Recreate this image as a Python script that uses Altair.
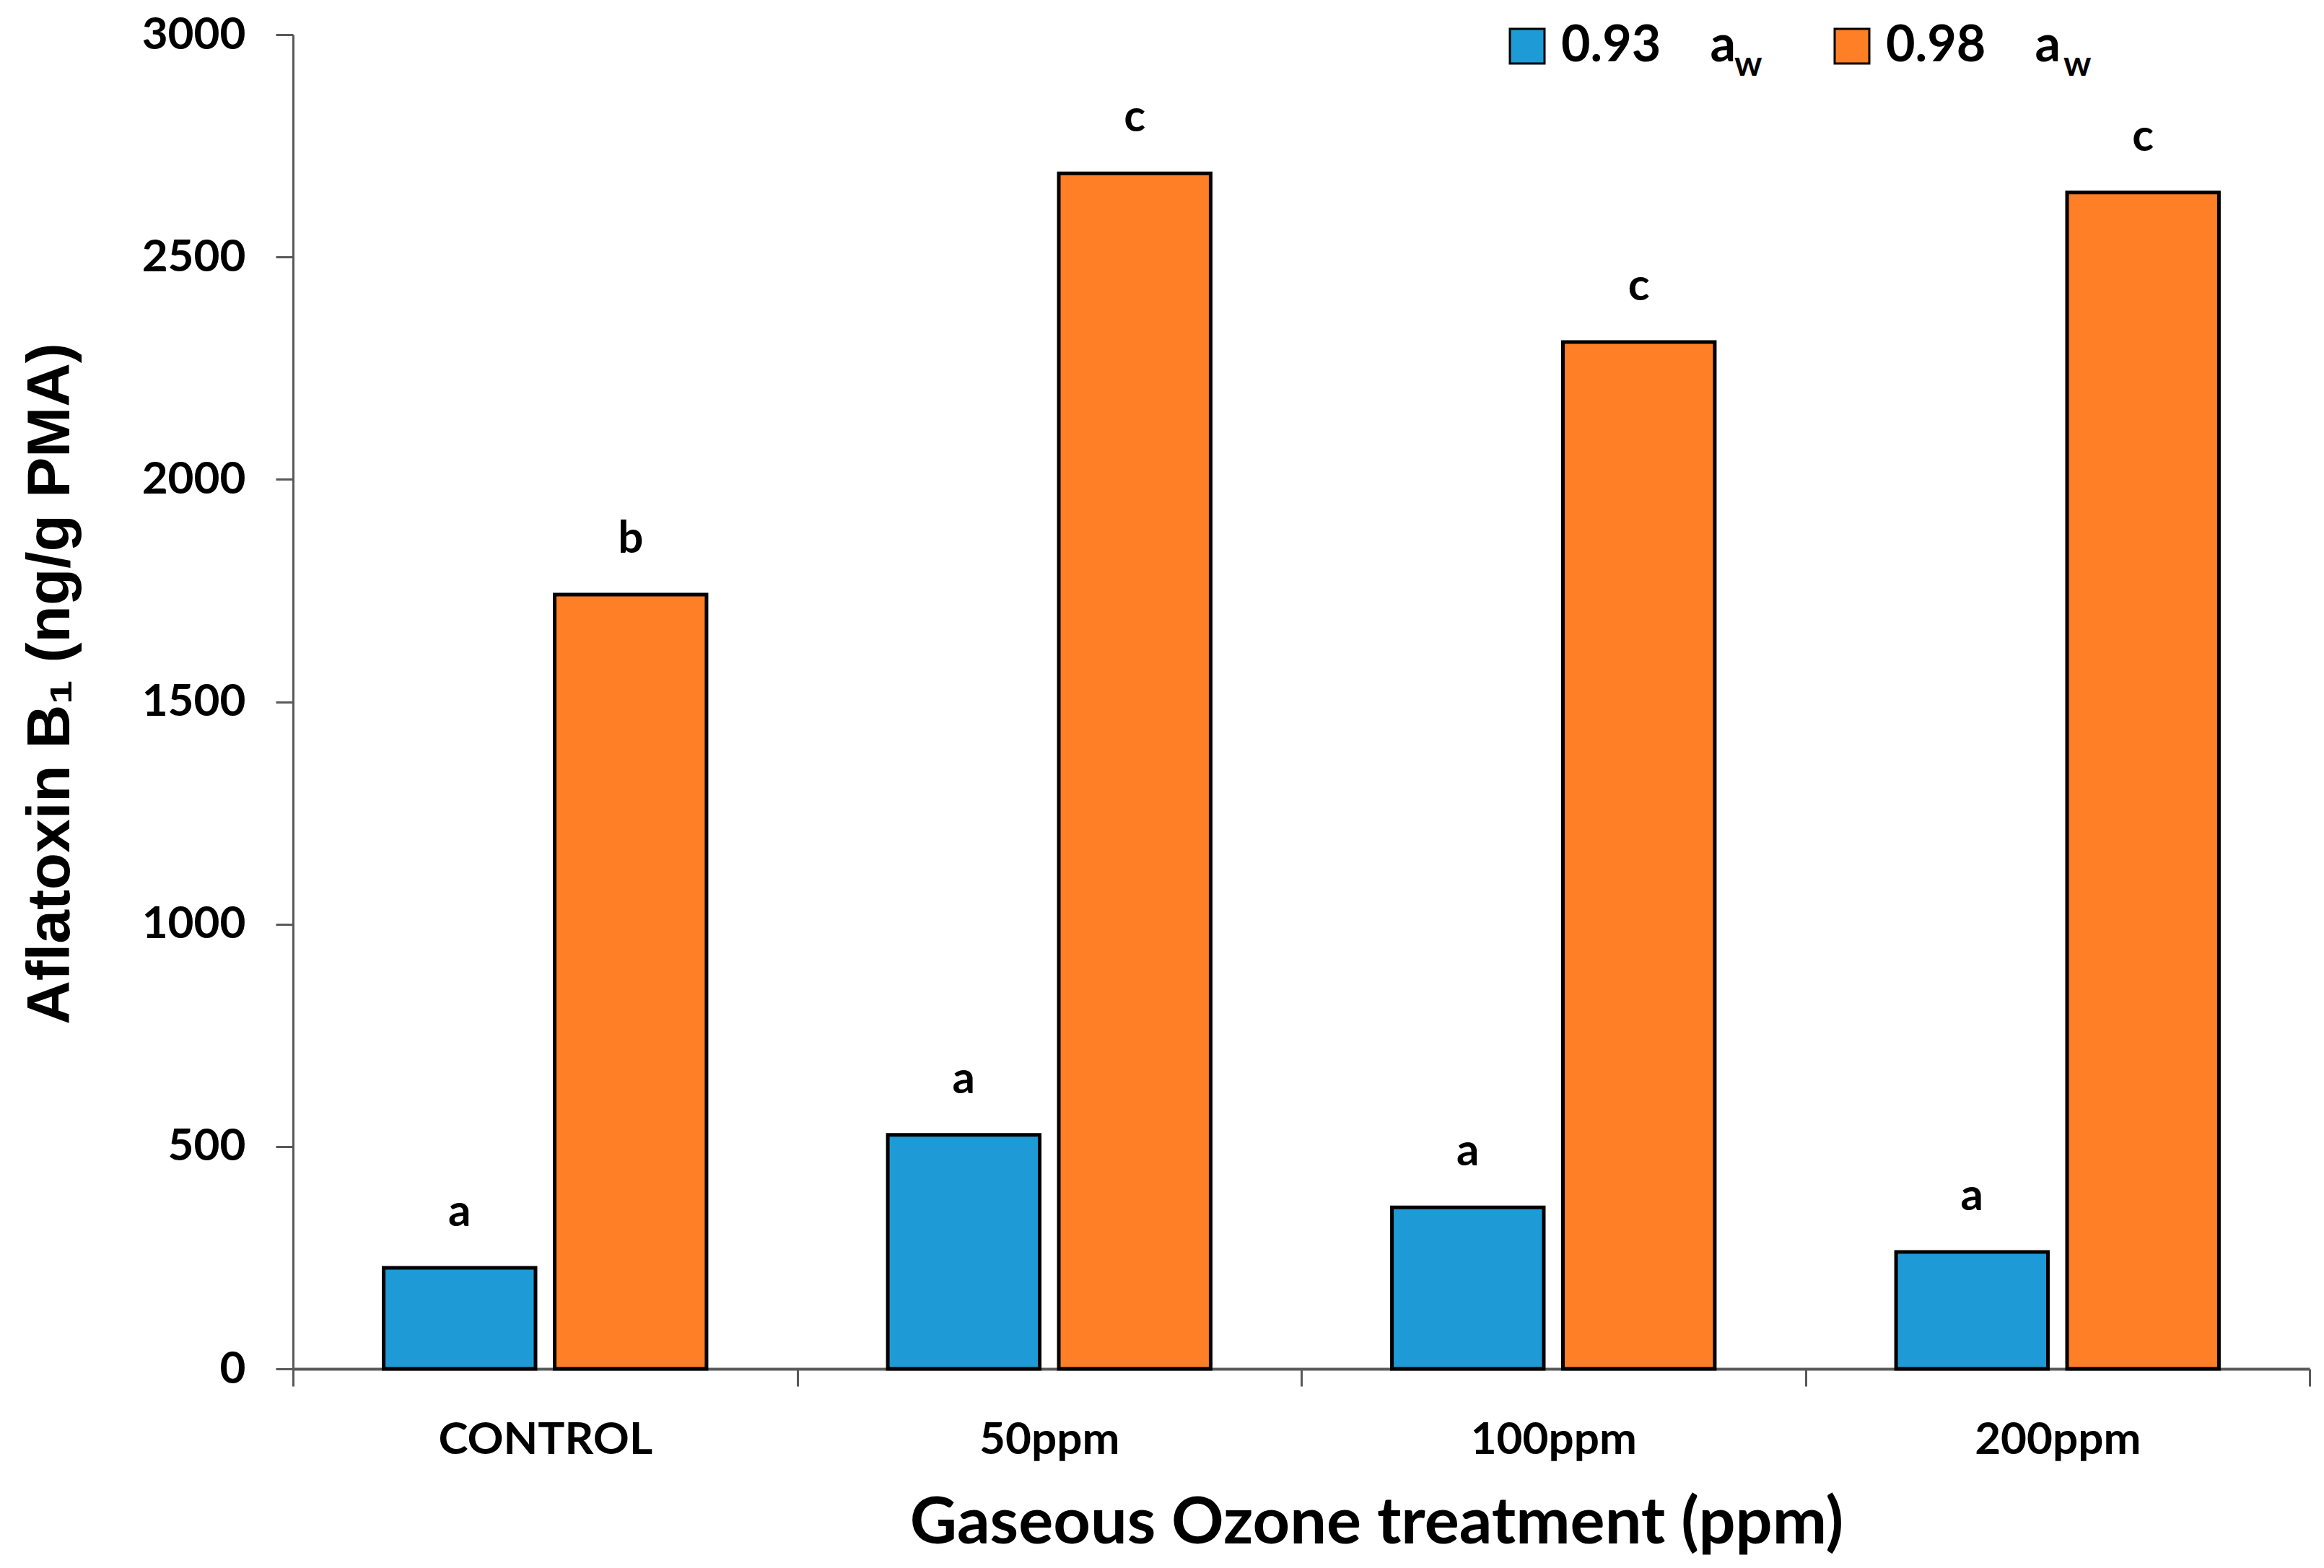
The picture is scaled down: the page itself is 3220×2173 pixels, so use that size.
import altair as alt
import pandas as pd

# ---- data ----
treatments = ["CONTROL", "50ppm", "100ppm", "200ppm"]
series = ["0.93", "0.98"]
aw_093 = [227, 526, 363, 263]
aw_098 = [1741, 2688, 2309, 2645]
letters_093 = ["a", "a", "a", "a"]
letters_098 = ["b", "c", "c", "c"]
colors = ["#1E9BD7", "#FF7F27"]
y_ticks = [0, 500, 1000, 1500, 2000, 2500, 3000]

NB = "\u00a0"
legend_labels = [s + NB * 4 + "a" for s in series]

rows = []
for i, t in enumerate(treatments):
    rows.append({"treatment": t, "aw": legend_labels[0], "value": aw_093[i], "letter": letters_093[i]})
    rows.append({"treatment": t, "aw": legend_labels[1], "value": aw_098[i], "letter": letters_098[i]})
df = pd.DataFrame(rows)

FONT = "Lato"
AXIS_COLOR = "#595959"

x_enc = alt.X(
    "treatment:N",
    sort=treatments,
    scale=alt.Scale(paddingInner=0, paddingOuter=0),
    axis=alt.Axis(
        title="Gaseous Ozone treatment (ppm)",
        labelAngle=0,
        labelLimit=0,
        tickBand="extent",
        labelFont=FONT,
        labelFontWeight="bold",
        labelFontSize=62,
        labelColor="black",
        labelPadding=44,
        tickSize=24,
        tickWidth=3,
        tickColor=AXIS_COLOR,
        domainColor=AXIS_COLOR,
        domainWidth=4,
        titleFont=FONT,
        titleFontWeight="bold",
        titleFontSize=90,
        titleColor="black",
        titleX=1501,
        titleY=241,
        titleAlign="center",
        titleBaseline="alphabetic",
        titleLimit=0,
    ),
)
xo_enc = alt.XOffset(
    "aw:N",
    sort=legend_labels,
    scale=alt.Scale(paddingInner=0.112, paddingOuter=0.53),
)
y_enc = alt.Y(
    "value:Q",
    scale=alt.Scale(domain=[0, 3000], nice=False),
    axis=alt.Axis(
        values=y_ticks,
        format="d",
        grid=False,
        title="Aflatoxin B\u2081 (ng/g PMA)",
        labelFont=FONT,
        labelFontWeight="bold",
        labelFontSize=62,
        labelColor="black",
        labelPadding=42,
        labelLimit=0,
        tickSize=24,
        tickWidth=3,
        tickColor=AXIS_COLOR,
        domainColor=AXIS_COLOR,
        domainWidth=3,
        titleFont="Liberation Sans",
        titleFontWeight="bold",
        titleFontSize=84,
        titleColor="black",
        titleAngle=270,
        titleX=-311,
        titleY=899,
        titleAlign="center",
        titleBaseline="alphabetic",
        titleLimit=0,
    ),
)
color_enc = alt.Color(
    "aw:N",
    scale=alt.Scale(domain=legend_labels, range=colors),
    legend=alt.Legend(
        title=None,
        orient="none",
        legendX=1675,
        legendY=-19,
        direction="horizontal",
        symbolType="square",
        symbolSize=2304,
        symbolStrokeColor="black",
        symbolStrokeWidth=3,
        symbolOpacity=1,
        labelFont=FONT,
        labelFontWeight="bold",
        labelFontSize=70,
        labelColor="black",
        labelOffset=12,
        labelLimit=0,
        columnPadding=126,
        padding=0,
    ),
)

base = alt.Chart(df)
bars = base.mark_bar(stroke="black", strokeWidth=5, opacity=1).encode(
    x=x_enc, xOffset=xo_enc, y=y_enc, color=color_enc
)
letters = base.mark_text(
    dy=-58, baseline="alphabetic", font=FONT, fontWeight="bold", fontSize=62, color="black"
).encode(x=x_enc, xOffset=xo_enc, y=y_enc, text="letter:N")

sub_df = pd.DataFrame({"s": ["w"]})
sub1 = alt.Chart(sub_df).mark_text(
    align="left", baseline="alphabetic", font=FONT, fontWeight="bold", fontSize=48, color="black"
).encode(x=alt.value(1997), y=alt.value(57), text="s:N")
sub2 = alt.Chart(sub_df).mark_text(
    align="left", baseline="alphabetic", font=FONT, fontWeight="bold", fontSize=48, color="black"
).encode(x=alt.value(2453), y=alt.value(57), text="s:N")

chart = (
    alt.layer(bars, letters, sub1, sub2)
    .properties(
        width=2794,
        height=1849,
        autosize=alt.AutoSizeParams(type="none"),
        padding={"left": 398, "top": 40, "right": 12, "bottom": 272},
        background="white",
    )
    .configure_view(stroke=None)
)

chart.save("out.html", embed_options={"renderer": "svg", "actions": False})
